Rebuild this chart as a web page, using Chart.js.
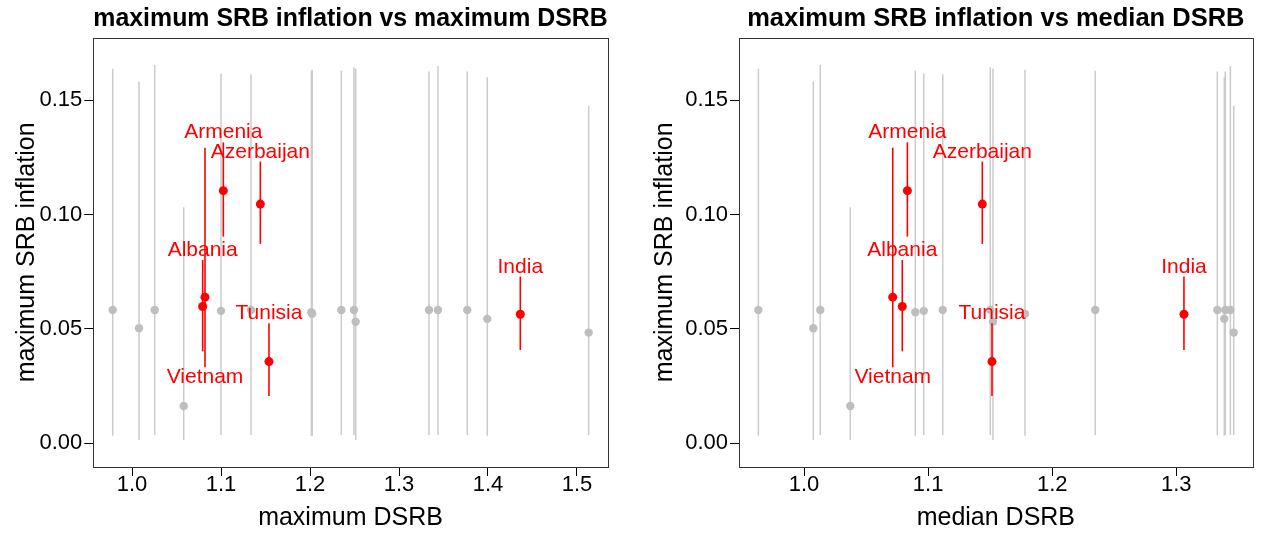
<!DOCTYPE html>
<html>
<head>
<meta charset="utf-8">
<script src="https://cdn.jsdelivr.net/npm/chart.js@4.4.1/dist/chart.umd.min.js"></script>
<style>
html, body { margin: 0; padding: 0; background: #fff; }
#wrap { position: relative; width: 1261px; height: 533px; overflow: hidden; }
#left { position: absolute; left: 0; top: 0; }
#right { position: absolute; left: 630px; top: 0; }
</style>
</head>
<body>
<div id="wrap">
  <canvas id="left" width="630" height="533"></canvas>
  <canvas id="right" width="631" height="533"></canvas>
</div>
<script>
// ---------- data ----------
// countries without labels (gray)
const grayMaxDSRB    = [0.9783, 1.0079, 1.0255, 1.0581, 1.1000, 1.1337, 1.2015, 1.2025, 1.2352, 1.2494, 1.2513, 1.3337, 1.3438, 1.3767, 1.3992, 1.5131];
const grayMedianDSRB = [0.9632, 1.0075, 1.0131, 1.0373, 1.0965, 1.1118, 1.0897, 1.1781, 1.2347, 1.1501, 1.1523, 1.3331, 1.3436, 1.3395, 1.3387, 1.3463];
const grayInflation  = [0.0583, 0.0503, 0.0583, 0.0163, 0.0579, 0.0583, 0.0573, 0.0566, 0.0583, 0.0583, 0.0531, 0.0583, 0.0583, 0.0583, 0.0544, 0.0484];
const grayLow        = [0.0033, 0.0014, 0.0036, 0.0014, 0.0036, 0.0036, 0.0033, 0.0033, 0.0036, 0.0036, 0.0014, 0.0036, 0.0036, 0.0036, 0.0033, 0.0036];
const grayHigh       = [0.1638, 0.1582, 0.1655, 0.1032, 0.1617, 0.1614, 0.1629, 0.1634, 0.1629, 0.1645, 0.1638, 0.1626, 0.1650, 0.1626, 0.1601, 0.1476];

// highlighted countries (red)
const redCountries   = ['Albania', 'Armenia', 'Azerbaijan', 'India', 'Tunisia', 'Vietnam'];
const redMaxDSRB     = [1.0794, 1.1026, 1.1442, 1.4363, 1.1539, 1.0820];
const redMedianDSRB  = [1.0792, 1.0833, 1.1437, 1.3062, 1.1515, 1.0715];
const redInflation   = [0.0598, 0.1105, 0.1046, 0.0564, 0.0357, 0.0639];
const redLow         = [0.0402, 0.0904, 0.0872, 0.0408, 0.0207, 0.0332];
const redHigh        = [0.0802, 0.1316, 0.1232, 0.0729, 0.0525, 0.1293];
const redLabelSide   = ['above', 'above', 'above', 'above', 'above', 'below'];

// axis ticks
const yTicks       = [0, 0.05, 0.10, 0.15];
const xTicksMax    = [1.0, 1.1, 1.2, 1.3, 1.4, 1.5];
const xTicksMedian = [1.0, 1.1, 1.2, 1.3];

// ---------- rendering ----------
const FONT = '"Liberation Sans", Arial, Helvetica, sans-serif';
Chart.defaults.font.family = FONT;
Chart.defaults.color = '#000';

const errorBars = {
  id: 'errorBars',
  beforeDatasetDraw(chart, args) {
    const ds = chart.data.datasets[args.index];
    if (!ds.errLow) return;
    const xs = chart.scales.x, ys = chart.scales.y, ctx = chart.ctx;
    ctx.save();
    ctx.strokeStyle = ds.errColor;
    ctx.lineWidth = ds.errWidth;
    ds.data.forEach((p, i) => {
      const x = xs.getPixelForValue(p.x);
      ctx.beginPath();
      ctx.moveTo(x, ys.getPixelForValue(ds.errLow[i]));
      ctx.lineTo(x, ys.getPixelForValue(ds.errHigh[i]));
      ctx.stroke();
    });
    ctx.restore();
  }
};

const countryLabels = {
  id: 'countryLabels',
  afterDatasetsDraw(chart) {
    const ds = chart.data.datasets[0];
    const xs = chart.scales.x, ys = chart.scales.y, ctx = chart.ctx;
    ctx.save();
    ctx.font = '21px ' + FONT;
    ctx.fillStyle = '#ff0000';
    ctx.textAlign = 'center';
    ctx.textBaseline = 'alphabetic';
    ds.data.forEach((p, i) => {
      const x = xs.getPixelForValue(p.x);
      const y = ds.labelSide[i] === 'above'
        ? ys.getPixelForValue(ds.errHigh[i]) - 4
        : ys.getPixelForValue(ds.errLow[i]) + 15.5;
      ctx.fillText(ds.countryNames[i], x, y);
    });
    ctx.restore();
  }
};

const boxPlugin = {
  id: 'box',
  afterDatasetsDraw(chart) {
    const a = chart.chartArea, ctx = chart.ctx;
    ctx.save();
    ctx.strokeStyle = '#333';
    ctx.lineWidth = 1;
    const l = Math.round(a.left) + 0.5, t = Math.round(a.top) + 0.5;
    const r = Math.round(a.right) + 0.5, b = Math.round(a.bottom) + 0.5;
    ctx.strokeRect(l, t, r - l, b - t);
    ctx.restore();
  }
};

function makeChart(id, cfg) {
  const redData = cfg.redX.map((x, i) => ({ x: x, y: redInflation[i] }));
  const grayData = cfg.grayX.map((x, i) => ({ x: x, y: grayInflation[i] }));
  return new Chart(document.getElementById(id), {
    type: 'scatter',
    data: {
      datasets: [
        {
          label: 'highlighted',
          data: redData,
          backgroundColor: '#ff0000',
          pointRadius: 4.5,
          pointBorderWidth: 0,
          borderWidth: 0,
          errLow: redLow, errHigh: redHigh,
          errColor: '#ff0000', errWidth: 1.6,
          countryNames: redCountries,
          labelSide: redLabelSide
        },
        {
          label: 'others',
          data: grayData,
          backgroundColor: '#bebebe',
          pointRadius: 4.2,
          pointBorderWidth: 0,
          borderWidth: 0,
          errLow: grayLow, errHigh: grayHigh,
          errColor: '#cbcbcb', errWidth: 1.5
        }
      ]
    },
    options: {
      responsive: false,
      animation: false,
      events: [],
      layout: { padding: { top: 0, left: 0, right: cfg.padRight, bottom: 0 } },
      plugins: {
        legend: { display: false },
        tooltip: { enabled: false },
        title: {
          display: true,
          text: cfg.title,
          fullSize: false,
          color: '#000',
          font: { family: FONT, size: 25.5, weight: 'bold', lineHeight: 1.2 },
          padding: { top: 3.2, bottom: 3.9 }
        }
      },
      scales: {
        x: {
          type: 'linear',
          position: 'bottom',
          min: cfg.xMin, max: cfg.xMax,
          afterBuildTicks: (s) => { s.ticks = cfg.xTicks.map(v => ({ value: v })); },
          afterFit: (s) => { s.height = 66; },
          ticks: {
            callback: (v) => Number(v).toFixed(1),
            font: { size: 22, lineHeight: 0.82 },
            color: '#000',
            padding: 0,
            maxRotation: 0
          },
          grid: { display: true, drawOnChartArea: false, drawTicks: true, tickLength: 9, color: '#000', lineWidth: 1 },
          border: { display: false },
          title: { display: true, text: cfg.xTitle, font: { size: 25, lineHeight: 1.2 }, color: '#000', padding: { top: 0, bottom: 0 } }
        },
        y: {
          type: 'linear',
          position: 'left',
          min: -0.0104, max: 0.1774,
          afterBuildTicks: (s) => { s.ticks = yTicks.map(v => ({ value: v })); },
          afterFit: (s) => { s.width = cfg.yWidth; },
          ticks: {
            callback: (v) => Number(v).toFixed(2),
            font: { size: 22 },
            color: '#000',
            padding: 2
          },
          grid: { display: true, drawOnChartArea: false, drawTicks: true, tickLength: 9, color: '#000', lineWidth: 1 },
          border: { display: false },
          title: { display: true, text: 'maximum SRB inflation', font: { size: 25, lineHeight: 1.2 }, color: '#000', padding: { top: cfg.yTitlePad, bottom: 0 } }
        }
      }
    },
    plugins: [errorBars, countryLabels, boxPlugin]
  });
}

makeChart('left', {
  redX: redMaxDSRB, grayX: grayMaxDSRB,
  xMin: 0.9565, xMax: 1.5345, xTicks: xTicksMax,
  title: 'maximum SRB inflation vs maximum DSRB',
  xTitle: 'maximum DSRB',
  padRight: 22.3, yWidth: 93.3, yTitlePad: 12.6
});

makeChart('right', {
  redX: redMedianDSRB, grayX: grayMedianDSRB,
  xMin: 0.9476, xMax: 1.3616, xTicks: xTicksMedian,
  title: 'maximum SRB inflation vs median DSRB',
  xTitle: 'median DSRB',
  padRight: 8.3, yWidth: 109, yTitlePad: 20.4
});
</script>
</body>
</html>
